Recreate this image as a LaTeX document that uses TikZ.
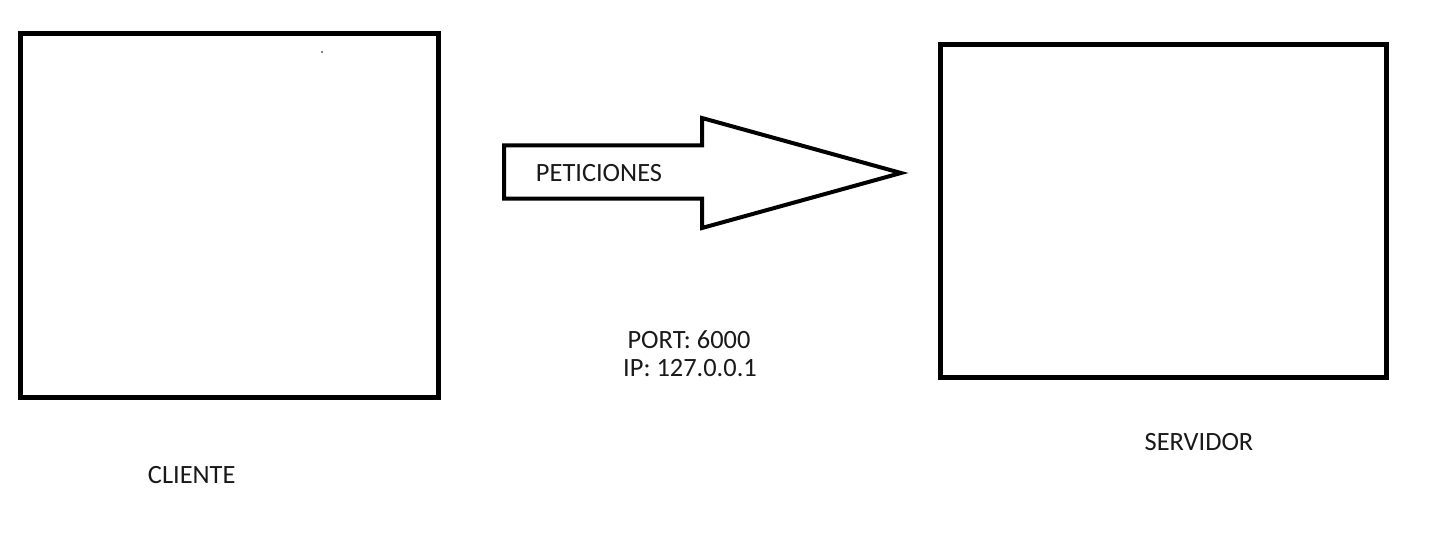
\documentclass[tikz,border=0pt]{standalone}
\usepackage{fontspec}
\setmainfont{Carlito}
\begin{document}
\begin{tikzpicture}[x=0.5pt,y=-0.5pt,
  boxline/.style={draw=black,line width=2.5pt},
  lbl/.style={inner sep=0pt,font=\fontsize{13.2}{15}\selectfont,text=black!90}]
\useasboundingbox (0,0) rectangle (1431,545);
\node[boxline,minimum width=209pt,minimum height=182pt,inner sep=0pt] (cliente) at (229.5,215.5) {};
\node[boxline,minimum width=223.25pt,minimum height=166.4pt,inner sep=0pt] (servidor) at (1163.25,211.1) {};
\draw[line width=2pt,line join=miter] (504,145.5) -- (702,145.5) -- (702,118) -- (901,173) -- (702,228) -- (702,198.7) -- (504,198.7) -- cycle;
\fill (322,52) circle (0.4pt);
\node[lbl] (pet) at (599,173) {PETICIONES};
\node[lbl] (port) at (689,340) {PORT: 6000};
\node[lbl] (ip) at (690,368) {IP: 127.0.0.1};
\node[lbl] (lcli) at (191.7,475) {CLIENTE};
\node[lbl] (lserv) at (1199,441.7) {SERVIDOR};
\end{tikzpicture}
\end{document}
